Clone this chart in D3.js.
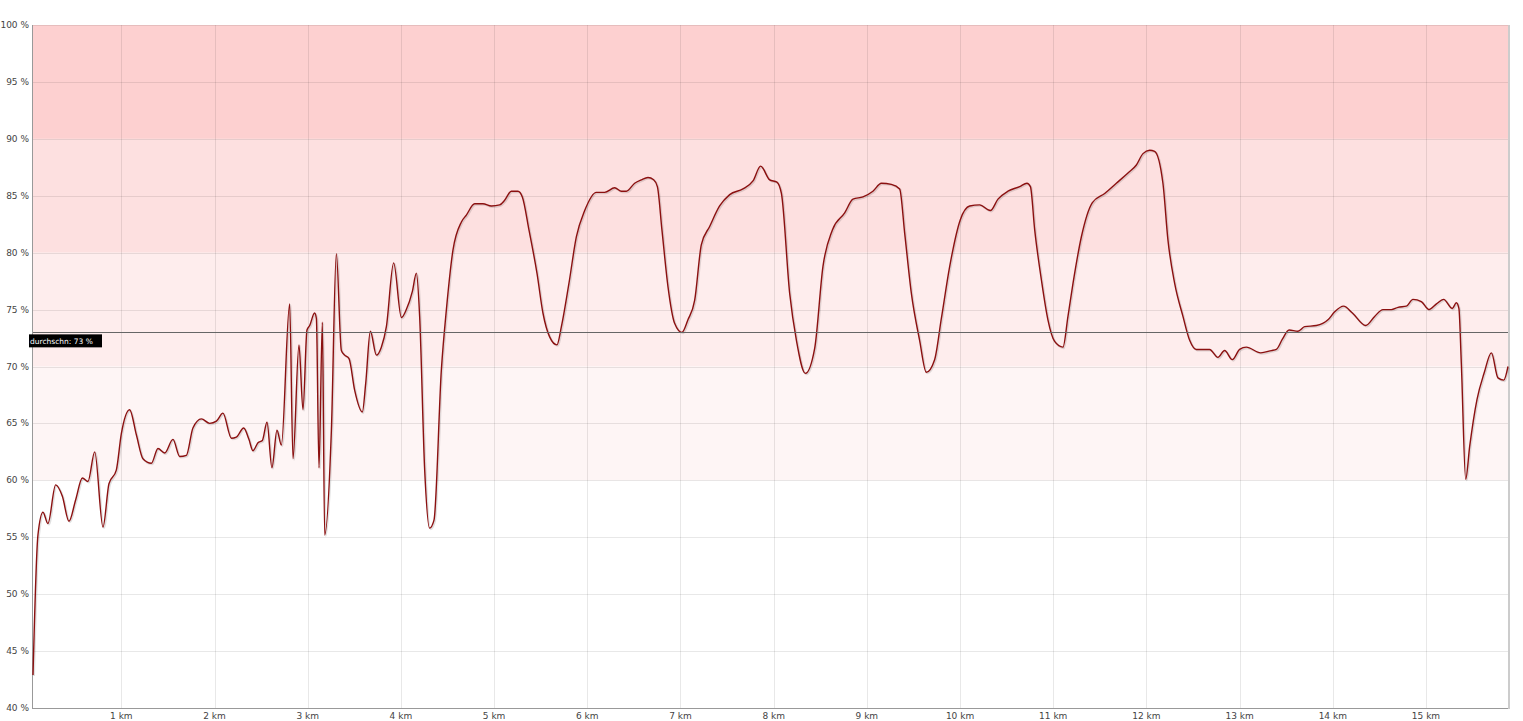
<!DOCTYPE html>
<html>
<head>
<meta charset="utf-8">
<script src="https://cdn.jsdelivr.net/npm/d3@7"></script>
<style>
	body { margin: 0; background: #fff; }
	text { font-family: "DejaVu Sans", Verdana, sans-serif; }
</style>
</head>
<body>
<div id="chart"></div>
<script>

// distance in km along the track
const distKm = [0.052,0.105,0.159,0.212,0.295,0.367,0.438,0.510,0.582,0.642,0.714,0.803,0.867,0.946,1.000,1.089,1.161,1.232,1.322,1.393,1.465,1.554,1.626,1.698,1.768,1.859,1.948,2.020,2.090,2.181,2.234,2.313,2.369,2.412,2.466,2.513,2.563,2.616,2.670,2.717,2.806,2.842,2.906,2.949,2.992,3.021,3.074,3.093,3.121,3.157,3.182,3.254,3.307,3.361,3.396,3.443,3.504,3.586,3.622,3.672,3.737,3.790,3.844,3.922,4.005,4.058,4.123,4.166,4.201,4.255,4.308,4.355,4.434,4.488,4.558,4.649,4.702,4.791,4.880,4.971,5.060,5.113,5.185,5.256,5.303,5.374,5.460,5.524,5.596,5.674,5.722,5.803,5.883,5.972,6.097,6.186,6.294,6.366,6.419,6.508,6.580,6.651,6.712,6.752,6.801,6.866,6.937,7.016,7.080,7.152,7.224,7.313,7.420,7.528,7.670,7.778,7.860,7.957,8.035,8.083,8.172,8.244,8.340,8.440,8.529,8.630,8.762,8.851,8.958,9.065,9.156,9.263,9.352,9.406,9.478,9.566,9.638,9.727,9.799,9.889,10.003,10.103,10.210,10.325,10.407,10.514,10.640,10.718,10.755,10.801,10.873,10.943,11.015,11.104,11.158,11.212,11.302,11.420,11.552,11.677,11.802,11.892,11.963,12.035,12.088,12.177,12.231,12.303,12.392,12.464,12.536,12.678,12.767,12.839,12.922,13.000,13.072,13.226,13.341,13.394,13.459,13.531,13.626,13.698,13.823,13.948,14.020,14.116,14.210,14.353,14.449,14.538,14.628,14.699,14.789,14.860,14.950,15.032,15.112,15.189,15.282,15.326,15.353,15.379,15.426,15.469,15.547,15.623,15.702,15.772,15.834,15.880];

// percentage of max heart rate
const hrPercent = [42.9,55.2,57.2,56.2,59.6,58.6,56.4,58.3,60.2,59.9,62.5,55.9,59.7,60.9,64.1,66.2,64.0,61.9,61.5,62.8,62.4,63.6,62.1,62.2,64.6,65.4,65.0,65.2,65.9,63.7,63.8,64.6,63.6,62.6,63.3,63.5,65.1,61.1,64.4,63.1,75.5,61.9,71.9,66.2,73.2,73.6,74.7,74.2,61.1,73.9,55.2,64.4,79.9,71.4,71.0,70.7,67.9,66.0,68.5,73.1,71.0,71.7,73.5,79.1,74.3,75.0,76.6,78.2,74.4,60.9,55.8,56.5,69.7,75.0,80.2,82.7,83.3,84.3,84.3,84.1,84.2,84.6,85.4,85.4,84.9,82.0,78.2,74.7,72.6,71.9,73.5,77.3,81.4,83.7,85.3,85.3,85.7,85.4,85.4,86.1,86.4,86.6,86.4,85.8,82.0,77.0,73.8,73.0,74.1,75.8,80.7,82.3,84.1,85.1,85.6,86.3,87.6,86.4,86.2,85.2,76.4,72.3,69.4,71.6,78.8,82.0,83.5,84.7,84.9,85.4,86.1,86.0,85.6,81.7,76.4,72.3,69.5,70.6,74.2,78.8,82.9,84.1,84.2,83.7,84.7,85.4,85.8,86.1,85.8,82.0,77.6,74.1,72.2,71.7,74.4,77.3,81.4,84.4,85.2,86.1,87.0,87.7,88.7,89.0,88.9,86.1,81.1,77.3,74.4,72.3,71.5,71.5,70.8,71.4,70.6,71.5,71.7,71.2,71.4,71.5,72.4,73.2,73.1,73.5,73.6,74.1,74.8,75.3,74.7,73.6,74.4,75.0,75.0,75.2,75.3,75.9,75.7,75.0,75.5,75.9,75.1,75.6,75.1,70.3,60.1,63.0,67.1,69.4,71.2,69.0,68.8,70.0];

// heart rate zones (lower bound, upper bound, fill)
const zoneLow = [60, 70, 80, 90];
const zoneHigh = [70, 80, 90, 100];
const zoneColors = ["#fef5f5", "#feeded", "#fde0e0", "#fdd0d0"];

const yTicks = [40, 45, 50, 55, 60, 65, 70, 75, 80, 85, 90, 95, 100];
const xTicks = [1, 2, 3, 4, 5, 6, 7, 8, 9, 10, 11, 12, 13, 14, 15];
const average = 73;
const averageLabel = "durchschn: 73 %";

const width = 1523;
const height = 721;
const margin = {top: 25, right: 15, bottom: 13, left: 33};

const svg = d3
	.select("#chart")
	.append("svg")
	.attr("width", width)
	.attr("height", height);

const x = d3.scaleLinear()
	.domain([distKm[0], distKm[distKm.length - 1]])
	.range([margin.left, width - margin.right]);

const y = d3.scaleLinear()
	.domain([40, 100])
	.range([height - margin.bottom, margin.top]);

// zone bands
svg.append("g")
	.selectAll("rect")
	.data(zoneLow)
	.enter()
	.append("rect")
	.attr("x", margin.left)
	.attr("width", width - margin.right - margin.left)
	.attr("y", (d, i) => y(zoneHigh[i]))
	.attr("height", (d, i) => y(d) - y(zoneHigh[i]))
	.attr("fill", (d, i) => zoneColors[i]);

// grid
svg.append("g")
	.selectAll("line")
	.data(yTicks.slice(1))
	.enter()
	.append("line")
	.attr("x1", margin.left)
	.attr("x2", width - margin.right)
	.attr("y1", d => Math.round(y(d)) + 0.5)
	.attr("y2", d => Math.round(y(d)) + 0.5)
	.attr("stroke", "rgba(0,0,0,0.09)");

svg.append("g")
	.selectAll("line")
	.data(xTicks)
	.enter()
	.append("line")
	.attr("x1", d => Math.round(x(d)) + 0.5)
	.attr("x2", d => Math.round(x(d)) + 0.5)
	.attr("y1", margin.top)
	.attr("y2", height - margin.bottom)
	.attr("stroke", "rgba(0,0,0,0.09)");

// y labels
svg.append("g")
	.selectAll("text")
	.data(yTicks)
	.enter()
	.append("text")
	.attr("x", margin.left - 4)
	.attr("y", d => y(d) + 3)
	.attr("text-anchor", "end")
	.attr("font-size", 9)
	.attr("fill", "#444")
	.text(d => d + " %");

// x labels
svg.append("g")
	.selectAll("text")
	.data(xTicks)
	.enter()
	.append("text")
	.attr("x", d => x(d))
	.attr("y", height - 2)
	.attr("text-anchor", "middle")
	.attr("font-size", 9)
	.attr("fill", "#444")
	.text(d => d + " km");

// axis lines and right border
svg.append("line")
	.attr("x1", margin.left - 0.5).attr("x2", margin.left - 0.5)
	.attr("y1", margin.top).attr("y2", height - margin.bottom + 1)
	.attr("stroke", "#999");
svg.append("line")
	.attr("x1", margin.left - 1).attr("x2", width - margin.right)
	.attr("y1", height - margin.bottom + 0.5).attr("y2", height - margin.bottom + 0.5)
	.attr("stroke", "#999");
svg.append("line")
	.attr("x1", width - margin.right + 1).attr("x2", width - margin.right + 1)
	.attr("y1", margin.top).attr("y2", height - margin.bottom + 1)
	.attr("stroke", "#ccc")
	.attr("stroke-width", 2);

const line = d3.line()
	.x((d, i) => x(distKm[i]))
	.y(d => y(d))
	.curve(d3.curveMonotoneX);

// shadow then line
svg.append("path")
	.datum(hrPercent)
	.attr("d", line)
	.attr("transform", "translate(1,1)")
	.attr("fill", "none")
	.attr("stroke", "rgba(0,0,0,0.12)")
	.attr("stroke-width", 2);

svg.append("path")
	.datum(hrPercent)
	.attr("d", line)
	.attr("fill", "none")
	.attr("stroke", "#8b1010")
	.attr("stroke-width", 1.4);

// average line + label
svg.append("line")
	.attr("x1", margin.left).attr("x2", width - margin.right)
	.attr("y1", Math.round(y(average)) + 0.5).attr("y2", Math.round(y(average)) + 0.5)
	.attr("stroke", "#666");

svg.append("rect")
	.attr("x", 29)
	.attr("y", y(average) + 2)
	.attr("width", 73)
	.attr("height", 13)
	.attr("fill", "#000");

svg.append("text")
	.attr("x", 30)
	.attr("y", y(average) + 11.5)
	.attr("font-size", 7.5)
	.attr("fill", "#fff")
	.text(averageLabel);

</script>
</body>
</html>
